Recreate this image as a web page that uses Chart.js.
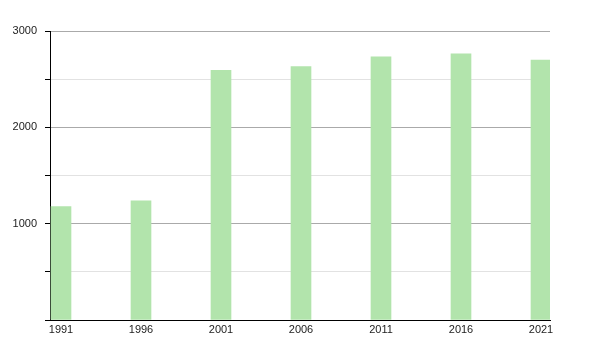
<!DOCTYPE html>
<html>
<head>
<meta charset="utf-8">
<script src="https://cdn.jsdelivr.net/npm/chart.js@4/dist/chart.umd.min.js"></script>
<style>
  html, body { margin: 0; padding: 0; background: #fff; }
  #wrap { width: 600px; height: 350px; }
</style>
</head>
<body>
<div id="wrap"><canvas id="chart"></canvas></div>
<script>
// census years and population
var years = [1991, 1996, 2001, 2006, 2011, 2016, 2021];
var population = [1178, 1236, 2592, 2630, 2733, 2762, 2698];
var yTicks = [0, 500, 1000, 1500, 2000, 2500, 3000];

var ctx = document.getElementById('chart').getContext('2d');

var config = {
    type: 'bar',
    data: {
        datasets: [{
            data: years.map((y, i) => ({ x: y, y: population[i] })),
            backgroundColor: 'rgb(178,228,172)',
            borderWidth: 0,
            barThickness: 20
        }]
    },
    options: {
        responsive: true,
        maintainAspectRatio: false,
        animation: false,
        layout: { padding: { top: 31, right: 50, left: 0, bottom: 0 } },
        plugins: { legend: { display: false }, tooltip: { enabled: false } },
        scales: {
            x: {
                type: 'linear',
                min: 1990.3125,
                max: 2021.5625,
                offset: false,
                afterBuildTicks: function(axis) {
                    axis.ticks = years.map(v => ({ value: v }));
                },
                afterFit: function(axis) { axis.height = 30; },
                grid: { display: true, drawOnChartArea: false, drawTicks: false, offset: false },
                border: { color: '#000', width: 1 },
                ticks: {
                    autoSkip: false,
                    maxRotation: 0,
                    padding: 3,
                    color: '#222',
                    font: { family: 'Liberation Sans', size: 11 },
                    callback: v => String(v)
                }
            },
            y: {
                min: 0,
                max: 3000,
                afterBuildTicks: function(axis) {
                    axis.ticks = yTicks.map(v => ({ value: v }));
                },
                afterFit: function(axis) { axis.width = 50; },
                grid: {
                    color: c => (c.tick && c.tick.value % 1000 === 0) ? '#aaaaaa' : '#e2e2e2',
                    tickColor: '#000',
                    tickLength: 5
                },
                border: { color: '#000', width: 1 },
                ticks: {
                    padding: 8,
                    color: '#222',
                    font: { family: 'Liberation Sans', size: 11 },
                    callback: v => (v !== 0 && v % 1000 === 0) ? String(v) : ''
                }
            }
        }
    }
};

window.myBar = new Chart(ctx, config);
</script>
</body>
</html>
